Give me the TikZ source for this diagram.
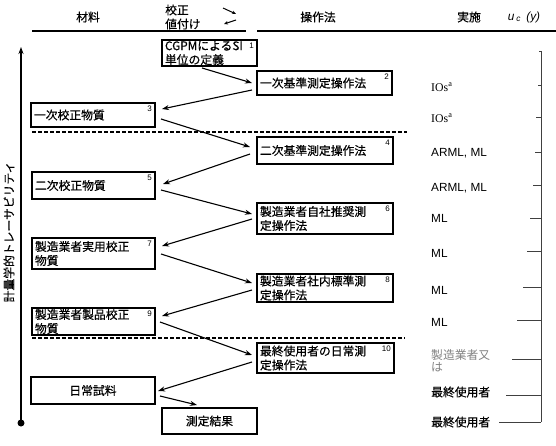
\documentclass[tikz,border=0pt]{standalone}
\usepackage{fontspec}
\setmainfont{Noto Sans CJK JP}[FakeBold=0.5]
\newfontfamily\cjkthin{Noto Sans CJK JP}
\newfontfamily\lsans{Liberation Sans}
\newfontfamily\lserif{Liberation Serif}
\usetikzlibrary{arrows.meta,calc}
\begin{document}
\begin{tikzpicture}[x=1pt,y=-1pt,
  every node/.style={font=\fontsize{11.8}{14}\selectfont},
  box/.style={draw,line width=1.1pt,anchor=north west,inner xsep=3pt,inner ysep=0pt,outer sep=0pt,align=left},
  cbox/.style={draw,line width=1.1pt,anchor=north west,inner sep=0pt,outer sep=0pt,align=center},
  numlab/.style={anchor=north east,font=\lsans\fontsize{8}{9}\selectfont,inner xsep=3pt,inner ysep=3pt},
  arr/.style={line width=1.1pt,-{Stealth[length=7pt,width=5pt]}},
  sarr/.style={line width=1pt,-{Stealth[length=4pt,width=3.5pt]}},
  impl/.style={anchor=west,inner sep=0pt},
  brk/.style={draw=black!75,line width=0.8pt},
  sep/.style={line width=1.2pt,dash pattern=on 4pt off 2pt},
  hline/.style={line width=1.5pt}]
\useasboundingbox (0,0) rectangle (556,446);

% header
\node (h1) at (88,17) {材料};
\node[anchor=west,inner sep=0pt] (h2a) at (165,10) {校正};
\node[anchor=west,inner sep=0pt] (h2b) at (165,24) {値付け};
\coordinate (sa1) at (223,8); \coordinate (sa2) at (236,14);
\coordinate (sa3) at (236,20); \coordinate (sa4) at (224,24);
\draw[sarr] (sa1) -- (sa2);
\draw[sarr] (sa3) -- (sa4);
\node (h3) at (318,17) {操作法};
\node (h4) at (469,17) {実施};
\node (h5) at (524,17) {\lsans\itshape u\,\textsubscript{c}\;\,(y)};
\draw[hline] (32,31) -- (246,31);
\draw[hline] (257,31) -- (556,31);

% boxes
\node[box,text width=89pt,minimum height=26pt,label={[numlab]north east:1}] (n1) at (162,40) {CGPMによるSI\\単位の定義};
\node[box,text width=129pt,minimum height=24pt,label={[numlab]north east:2}] (n2) at (257,71) {一次基準測定操作法};
\node[box,text width=118pt,minimum height=24pt,label={[numlab]north east:3}] (n3) at (31,103) {一次校正物質};
\node[box,text width=130pt,minimum height=27pt,label={[numlab]north east:4}] (n4) at (257,137) {二次基準測定操作法};
\node[box,text width=117pt,minimum height=27pt,label={[numlab]north east:5}] (n5) at (32,172) {二次校正物質};
\node[box,text width=130pt,minimum height=31pt,label={[numlab]north east:6}] (n6) at (257,203) {製造業者自社推奨測\\定操作法};
\node[box,text width=117pt,minimum height=31pt,label={[numlab]north east:7}] (n7) at (32,238) {製造業者実用校正\\物質};
\node[box,text width=130pt,minimum height=28pt,label={[numlab]north east:8}] (n8) at (257,274) {製造業者社内標準測\\定操作法};
\node[box,text width=117pt,minimum height=27pt,label={[numlab]north east:9}] (n9) at (32,308) {製造業者製品校正\\物質};
\node[box,text width=131pt,minimum height=30pt,label={[numlab]north east:10}] (n10) at (257,343) {最終使用者の日常測\\定操作法};
\node[cbox,minimum width=124pt,minimum height=27pt] (n11) at (31,377) {日常試料};
\node[cbox,minimum width=95pt,minimum height=26pt] (n12) at (162,408) {測定結果};

% separators
\draw[sep] (32,132) -- (407,132);
\draw[sep] (32,338) -- (405,338);

% arrows
\draw[arr] ($(n1.south)+(-7.5,2)$) -- ($(n2.west)+(-5,0)$);
\draw[arr] ($(n2.west)+(-5,7)$) -- ($(n3.east)+(7,-6)$);
\draw[arr] ($(n3.east)+(6,4)$) -- ($(n4.west)+(-7,-3.5)$);
\draw[arr] ($(n4.west)+(-7,3.5)$) -- ($(n5.east)+(8,-1.5)$);
\draw[arr] ($(n5.east)+(6,4.5)$) -- ($(n6.west)+(-5,-4.5)$);
\draw[arr] ($(n6.west)+(-5,0.5)$) -- ($(n7.east)+(7,-7.5)$);
\draw[arr] ($(n7.east)+(6,0.5)$) -- ($(n8.west)+(-5,-5)$);
\draw[arr] ($(n8.west)+(-5,2)$) -- ($(n9.east)+(7,-5.5)$);
\draw[arr] ($(n9.east)+(5,0.5)$) -- ($(n10.west)+(-5,-3)$);
\draw[arr] ($(n10.west)+(-5,4)$) -- ($(n11.east)+(3,0.5)$);
\draw[arr] ($(n11.east)+(5,5.5)$) -- ($(n12.north)+(-12.5,-3)$);

% left axis
\coordinate (ax0) at (21,423);
\coordinate (ax1) at (21,47);
\draw[arr] (ax0) -- (ax1);
\fill (ax0) circle (3.5);
\node[rotate=90] (axl) at (9,232) {計量学的トレーサビリティ};

% implementation column
\node[impl] (r1) at (431,87) {\lserif IOs\textsuperscript{a}};
\node[impl] (r2) at (431,118) {\lserif IOs\textsuperscript{a}};
\node[impl] (r3) at (431,153) {\lsans ARML, ML};
\node[impl] (r4) at (431,188) {\lsans ARML, ML};
\node[impl] (r5) at (431,218) {\lsans ML};
\node[impl] (r6) at (431,253) {\lsans ML};
\node[impl] (r7) at (431,290) {\lsans ML};
\node[impl] (r8) at (431,322) {\lsans ML};
\node[impl,align=left,text=black!50,font=\cjkthin\fontsize{11.8}{12}\selectfont] (r9) at (431,361) {製造業者又\\は};
\node[impl] (r10) at (431,392) {最終使用者};
\node[impl] (r11) at (431,422) {最終使用者};

% uncertainty bracket
\draw[brk] (541,51) -- (541,422);
\foreach \y/\x in {51/538.5,85/538,117/536,152/535,185/533,218/530,251/527,287/523,320/517,359/512,395/506,422/499}
  \draw[brk] (541,\y) -- (\x,\y);
\end{tikzpicture}
\end{document}
